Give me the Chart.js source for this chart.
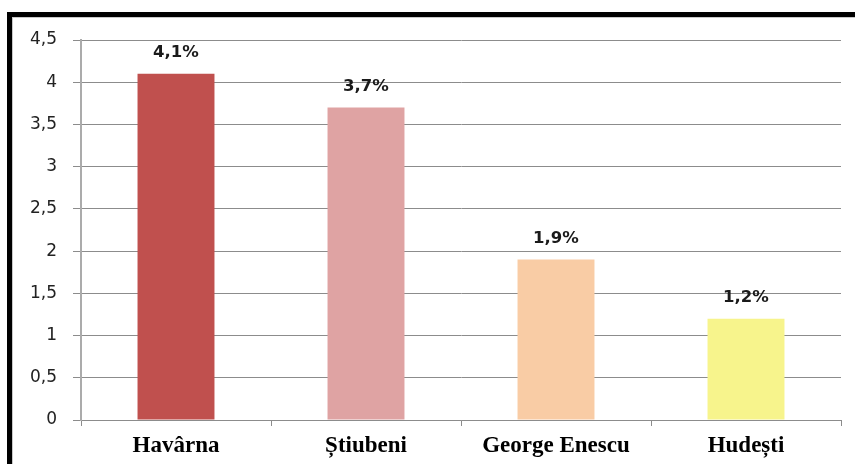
<!DOCTYPE html>
<html>
<head>
<meta charset="utf-8">
<script src="https://cdn.jsdelivr.net/npm/chart.js@4"></script>
<style>
  html, body { margin: 0; padding: 0; background: #fff; }
  #wrap { position: relative; width: 855px; height: 464px; overflow: hidden; }
  #frame {
    position: absolute; left: 7px; top: 12px; right: -10px; bottom: -10px;
    border-left: 5px solid #000; border-top: 5px solid #000;
  }
  #frame::after {
    content: ''; position: absolute; left: 0; top: 0; right: 0; bottom: 0;
    border-left: 1px solid #c8c8c8; border-top: 1px solid #c8c8c8;
  }
  canvas { position: absolute; left: 0; top: 0; }
</style>
</head>
<body>
<div id="wrap">
  <div id="frame"></div>
  <canvas id="chart" width="855" height="464"></canvas>
</div>
<script>
const categories = ['Havârna', 'Știubeni', 'George Enescu', 'Hudești'];
const values = [4.1, 3.7, 1.9, 1.2];
const valueLabels = ['4,1%', '3,7%', '1,9%', '1,2%'];
const barColors = ['#c0504e', '#dfa3a3', '#f9cca5', '#f7f48c'];
const yMax = 4.5;
const yStep = 0.5;

const valueLabelPlugin = {
  id: 'valueLabels',
  afterDatasetsDraw(chart) {
    const ctx = chart.ctx;
    const meta = chart.getDatasetMeta(0);
    ctx.save();
    ctx.font = 'bold 16.5px "DejaVu Sans"';
    ctx.fillStyle = '#1a1a1a';
    ctx.textAlign = 'center';
    ctx.textBaseline = 'middle';
    meta.data.forEach((bar, i) => {
      ctx.fillText(valueLabels[i], bar.x, bar.y - 21);
    });
    ctx.restore();
  },
};

new Chart(document.getElementById('chart').getContext('2d'), {
  type: 'bar',
  data: {
    labels: categories,
    datasets: [{
      data: values,
      backgroundColor: barColors,
      borderWidth: 0,
      categoryPercentage: 1,
      barPercentage: 0.405,
    }],
  },
  options: {
    responsive: false,
    animation: false,
    layout: { padding: { top: 40, right: 14, bottom: 0, left: 0 } },
    plugins: {
      legend: { display: false },
      tooltip: { enabled: false },
    },
    scales: {
      x: {
        afterFit: (s) => { s.height = 44; },
        grid: {
          offset: true,
          drawOnChartArea: false,
          tickLength: 6,
          color: '#8c8c8c',
        },
        border: { color: '#8c8c8c', width: 1 },
        ticks: {
          color: '#000',
          padding: 6,
          font: { family: '"Liberation Serif"', size: 23, weight: 'bold' },
        },
      },
      y: {
        min: 0,
        max: yMax,
        afterFit: (s) => { s.width = 81; },
        grid: { color: '#8c8c8c', tickLength: 8 },
        border: { color: '#ababab', width: 2 },
        ticks: {
          stepSize: yStep,
          padding: 16,
          color: '#222',
          font: { family: '"DejaVu Sans"', size: 17 },
          callback: (v) => String(v).replace('.', ','),
        },
      },
    },
  },
  plugins: [valueLabelPlugin],
});
</script>
</body>
</html>
